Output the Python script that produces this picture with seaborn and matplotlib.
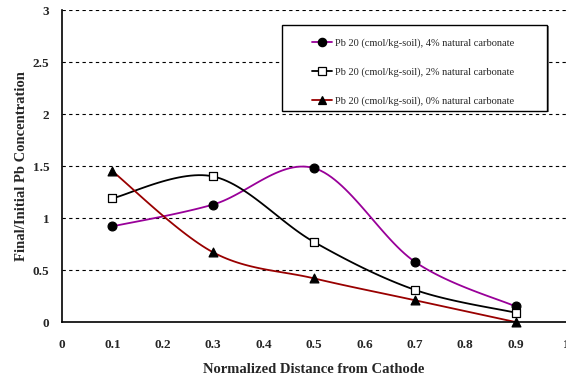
import numpy as np
import pandas as pd
import matplotlib
matplotlib.use("Agg")
import matplotlib.pyplot as plt
from matplotlib.patches import Rectangle
import seaborn as sns

distance = [0.1, 0.3, 0.5, 0.7, 0.9]
pb_4pct = [0.92, 1.13, 1.48, 0.58, 0.15]
pb_2pct = [1.19, 1.40, 0.77, 0.31, 0.09]
pb_0pct = [1.45, 0.67, 0.42, 0.21, 0.00]
labels = ["Pb 20 (cmol/kg-soil), 4% natural carbonate",
          "Pb 20 (cmol/kg-soil), 2% natural carbonate",
          "Pb 20 (cmol/kg-soil), 0% natural carbonate"]
xticks = [0, 0.1, 0.2, 0.3, 0.4, 0.5, 0.6, 0.7, 0.8, 0.9, 1]
xticklabels = ["0", "0.1", "0.2", "0.3", "0.4", "0.5", "0.6", "0.7", "0.8", "0.9", "1"]
yticks = [0, 0.5, 1, 1.5, 2, 2.5, 3]
yticklabels = ["0", "0.5", "1", "1.5", "2", "2.5", "3"]

sns.set_style("white")
plt.rcParams['font.family'] = ['Liberation Serif', 'DejaVu Serif']


def smooth(x, y, n=30):
    x = np.asarray(x, float); y = np.asarray(y, float)
    P = np.column_stack([x, y])
    Pp = np.vstack([P[0], P, P[-1]])
    out = []
    for i in range(len(P) - 1):
        p0, p1, p2, p3 = Pp[i], Pp[i + 1], Pp[i + 2], Pp[i + 3]
        c1 = p1 + (p2 - p0) / 6.0
        c2 = p2 - (p3 - p1) / 6.0
        t = np.linspace(0, 1, n)[:, None]
        seg = ((1 - t) ** 3) * p1 + 3 * ((1 - t) ** 2) * t * c1 + 3 * (1 - t) * t ** 2 * c2 + t ** 3 * p2
        out.append(seg if i == 0 else seg[1:])
    s = np.vstack(out)
    return s[:, 0], s[:, 1]


fig = plt.figure(figsize=(5.66, 3.78), dpi=100)
ax = fig.add_axes([0.1095, 0.148, 0.8905, 0.8255])

series = [
    (pb_4pct, "#990099", "o", "black"),
    (pb_2pct, "black", "s", "white"),
    (pb_0pct, "#990000", "^", "black"),
]
handles = []
for (vals, col, mk, fc), lab in zip(series, labels):
    sx, sy = smooth(distance, vals)
    sns.lineplot(x=sx, y=sy, ax=ax, color=col, lw=1.3, sort=False, estimator=None)
    sns.scatterplot(x=distance, y=vals, ax=ax, marker=mk, s=40 if mk != "s" else 38,
                    color=fc, edgecolor="black", linewidth=0.9, zorder=5, clip_on=False)
    h, = ax.plot([], [], color=col, lw=1.3, marker=mk, markersize=6,
                 markerfacecolor=fc, markeredgecolor="black", markeredgewidth=0.9)
    handles.append(h)

ax.set_xlim(0, 1)
ax.set_ylim(0, 3)
ax.set_xticks(xticks)
ax.set_xticklabels(xticklabels)
ax.set_yticks(yticks)
ax.set_yticklabels(yticklabels)
for y in yticks[1:]:
    ax.axhline(y, color="black", lw=0.8, ls=(0, (3, 3)), zorder=0)

for lab in ax.get_xticklabels() + ax.get_yticklabels():
    lab.set_fontweight("bold")
    lab.set_fontsize(9.5)
ax.tick_params(axis="x", direction="in", length=4, pad=12, width=0.8)
ax.tick_params(axis="y", length=0, pad=9)

ax.spines["top"].set_visible(False)
ax.spines["right"].set_visible(False)
ax.spines["left"].set_color("black")
ax.spines["bottom"].set_color("black")
ax.spines["left"].set_linewidth(1.2)
ax.spines["bottom"].set_linewidth(1.2)

ax.set_xlabel("Normalized Distance from Cathode", fontsize=10.5, fontweight="bold", labelpad=9)
ax.set_ylabel("Final/Initial Pb Concentration", fontsize=10.5, fontweight="bold")
ax.yaxis.set_label_coords(-0.067, 0.5)

# legend frame with slight shadow
ax.add_patch(Rectangle((0.439, 0.673), 0.527, 0.276, transform=ax.transAxes,
                       facecolor="#808080", edgecolor="none", zorder=6, clip_on=False))
ax.add_patch(Rectangle((0.436, 0.676), 0.527, 0.276, transform=ax.transAxes,
                       facecolor="white", edgecolor="black", lw=1.0, zorder=7, clip_on=False))

leg = ax.legend(handles, labels, loc="upper left", bbox_to_anchor=(0.497, 0.909),
                frameon=False, fontsize=7.5,
                labelspacing=1.85, borderpad=0, handlelength=1.9, handletextpad=0.25,
                borderaxespad=0)
leg.set_zorder(8)

fig.savefig("out.png", dpi=100)
